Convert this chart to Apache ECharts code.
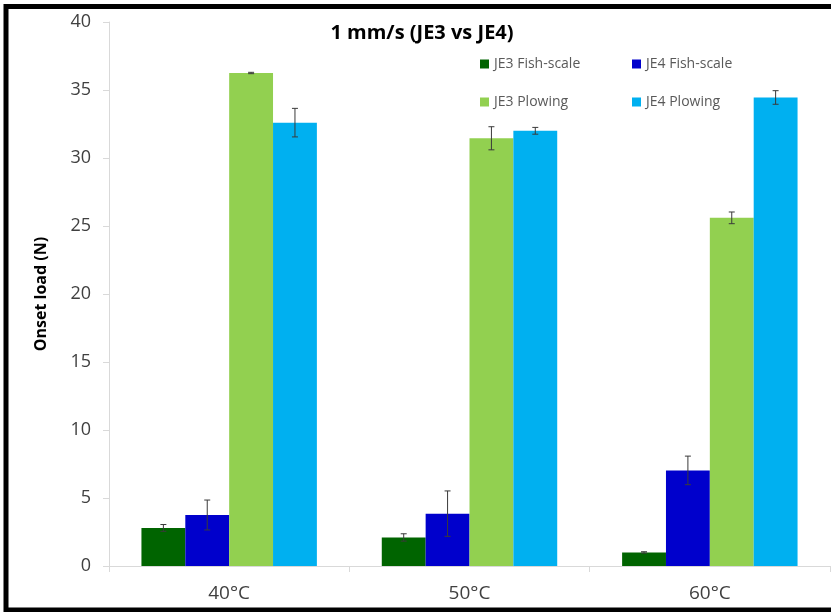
<!DOCTYPE html>
<html>
<head>
<meta charset="utf-8">
<script src="https://cdn.jsdelivr.net/npm/echarts@6/dist/echarts.min.js"></script>
<style>
  html, body { margin: 0; padding: 0; background: #fff; }
  #chart { width: 831px; height: 612px; }
</style>
</head>
<body>
<div id="chart"></div>
<script>
// Onset load by temperature, 1 mm/s sliding speed
const categories = ['40°C', '50°C', '60°C'];

const seriesNames = ['JE3 Fish-scale', 'JE4 Fish-scale', 'JE3 Plowing', 'JE4 Plowing'];

const je3FishScale = [2.8, 2.1, 1.0];
const je4FishScale = [3.75, 3.85, 7.03];
const je3Plowing = [36.25, 31.45, 25.6];
const je4Plowing = [32.6, 32.0, 34.45];

// standard deviations (error bar half-lengths)
const je3FishScaleErr = [0.25, 0.27, 0.05];
const je4FishScaleErr = [1.1, 1.67, 1.05];
const je3PlowingErr = [0.05, 0.85, 0.43];
const je4PlowingErr = [1.05, 0.25, 0.5];

const yTicks = { min: 0, max: 40, interval: 5 };

const values = [je3FishScale, je4FishScale, je3Plowing, je4Plowing];
const errors = [je3FishScaleErr, je4FishScaleErr, je3PlowingErr, je4PlowingErr];
const colors = ['#006400', '#0000CC', '#92D050', '#00B0F0'];

const FONT = '"Open Sans", Lato, sans-serif';
const CATEGORY_GAP = 0.27;

const chart = echarts.init(document.getElementById('chart'), null, { renderer: 'canvas' });

const barSeries = values.map((vals, i) => ({
  name: seriesNames[i],
  type: 'bar',
  data: vals,
  barGap: '0%',
  barCategoryGap: (CATEGORY_GAP * 100) + '%',
  itemStyle: { color: colors[i] },
  emphasis: { disabled: true }
}));

// error bars drawn as I-beams centred on each bar
const errorData = [];
values.forEach((vals, s) => {
  vals.forEach((v, c) => {
    errorData.push([c, v, errors[s][c], s]);
  });
});

const errorSeries = {
  type: 'custom',
  name: 'errors',
  data: errorData,
  z: 10,
  silent: true,
  renderItem: function (params, api) {
    const c = api.value(0);
    const v = api.value(1);
    const e = api.value(2);
    const s = api.value(3);
    const bandWidth = api.size([1, 0])[0];
    const barWidth = bandWidth * (1 - CATEGORY_GAP) / 4;
    const center = api.coord([c, v]);
    const x = center[0] + (s - 1.5) * barWidth;
    const top = api.coord([c, v + e])[1];
    const bottom = api.coord([c, v - e])[1];
    const cap = 3;
    const style = { stroke: '#3a3a3a', lineWidth: 1, fill: null };
    return {
      type: 'group',
      children: [
        { type: 'line', shape: { x1: x, y1: top, x2: x, y2: bottom }, style: style },
        { type: 'line', shape: { x1: x - cap, y1: top, x2: x + cap, y2: top }, style: style },
        { type: 'line', shape: { x1: x - cap, y1: bottom, x2: x + cap, y2: bottom }, style: style }
      ]
    };
  }
};

// legend laid out as a 2 x 2 block
const legendSlots = [
  { left: 480, top: 57 },
  { left: 632, top: 57 },
  { left: 480, top: 95 },
  { left: 632, top: 95 }
];
const legends = seriesNames.map((name, i) => ({
  data: [name],
  left: legendSlots[i].left,
  top: legendSlots[i].top,
  padding: 0,
  icon: 'rect',
  itemWidth: 9,
  itemHeight: 9,
  selectedMode: false,
  textStyle: { fontFamily: FONT, fontSize: 14, color: '#595959' }
}));

chart.setOption({
  animation: false,
  backgroundColor: '#ffffff',
  title: {
    text: '1 mm/s (JE3 vs JE4)',
    left: 422,
    textAlign: 'center',
    top: 23,
    padding: 0,
    textStyle: { fontFamily: FONT, fontSize: 20, fontWeight: 'bold', color: '#000' }
  },
  legend: legends,
  grid: { left: 109, right: 1, top: 22, bottom: 46, containLabel: false },
  xAxis: {
    type: 'category',
    data: categories,
    axisLine: { lineStyle: { color: '#d9d9d9', width: 1 } },
    axisTick: { show: true, length: 6, alignWithLabel: false, lineStyle: { color: '#d9d9d9' } },
    axisLabel: { fontFamily: FONT, fontSize: 19, color: '#404040', margin: 18 },
    splitLine: { show: false }
  },
  yAxis: {
    type: 'value',
    min: yTicks.min,
    max: yTicks.max,
    interval: yTicks.interval,
    name: 'Onset load (N)',
    nameLocation: 'middle',
    nameGap: 60,
    nameRotate: 90,
    nameTextStyle: { fontFamily: FONT, fontSize: 16, fontWeight: 'bold', color: '#000' },
    axisLine: { show: true, lineStyle: { color: '#d9d9d9', width: 1 } },
    axisTick: { show: true, length: 6, lineStyle: { color: '#d9d9d9' } },
    axisLabel: { fontFamily: FONT, fontSize: 18, color: '#404040', margin: 18 },
    splitLine: { show: false }
  },
  graphic: [
    {
      type: 'rect',
      silent: true,
      z: 100,
      shape: { x: 6, y: 6.5, width: 840, height: 603.5 },
      style: { fill: null, stroke: '#000', lineWidth: 5 }
    }
  ],
  series: barSeries.concat([errorSeries])
});
</script>
</body>
</html>
